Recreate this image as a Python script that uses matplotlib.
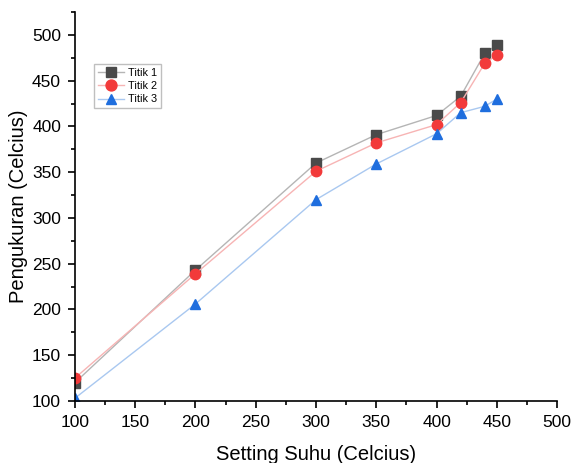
import matplotlib.pyplot as plt
from matplotlib.ticker import MultipleLocator

setting = [100, 200, 300, 350, 400, 420, 440, 450]
titik1 = [120, 243, 360, 391, 412, 433, 480, 489]
titik2 = [125, 239, 351, 382, 402, 426, 469, 478]
titik3 = [103, 206, 320, 359, 392, 415, 422, 430]

plt.rcParams['font.family'] = ['Liberation Sans', 'DejaVu Sans']

fig = plt.figure(figsize=(5.72, 4.63), dpi=100)
ax = fig.add_axes([0.131, 0.134, 0.843, 0.840])

ax.plot(setting, titik1, color='#b5b5b5', lw=1, marker='s', ms=6.5,
        mfc='#4a4a4a', mec='#4a4a4a', label='Titik 1')
ax.plot(setting, titik2, color='#f7b4b4', lw=1, marker='o', ms=7.5,
        mfc='#f23a3a', mec='#f23a3a', label='Titik 2')
ax.plot(setting, titik3, color='#a9c8f0', lw=1, marker='^', ms=7.5,
        mfc='#1f6ede', mec='#1f6ede', label='Titik 3')

ax.set_xlim(100, 500)
ax.set_ylim(100, 525)
ax.xaxis.set_major_locator(MultipleLocator(50))
ax.xaxis.set_minor_locator(MultipleLocator(25))
ax.yaxis.set_major_locator(MultipleLocator(50))
ax.yaxis.set_minor_locator(MultipleLocator(25))
for s in ['top', 'right']:
    ax.spines[s].set_visible(False)
for s in ['left', 'bottom']:
    ax.spines[s].set_linewidth(1.2)
ax.tick_params(which='major', direction='out', length=5, width=1.2,
               labelsize=12.5, pad=5)
ax.tick_params(which='minor', direction='out', length=3, width=1.2)

ax.set_xlabel('Setting Suhu (Celcius)', fontsize=14.5, labelpad=11)
ax.set_ylabel('Pengukuran (Celcius)', fontsize=14.5, labelpad=3)

leg = ax.legend(loc='upper left', bbox_to_anchor=(0.039, 0.866), borderaxespad=0,
                fontsize=7.8, frameon=True, fancybox=False, edgecolor='#b0b0b0',
                handlelength=2.4, handletextpad=0.4, borderpad=0.35,
                labelspacing=0.3, markerscale=1.05)
leg.get_frame().set_linewidth(1.0)

plt.savefig('out.png', dpi=100)
plt.close(fig)
